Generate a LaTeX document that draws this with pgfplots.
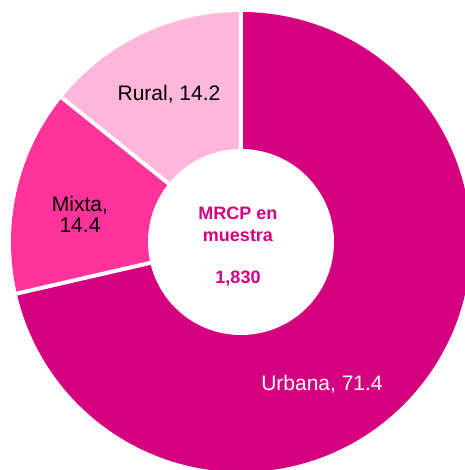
\documentclass[border=0pt]{standalone}
\usepackage{pgfplots}
\pgfplotsset{compat=1.18}
\usepackage{fontspec}
\setmainfont{Liberation Sans}
\definecolor{urb}{HTML}{D5007F}
\definecolor{mix}{HTML}{FF3399}
\definecolor{rur}{HTML}{FFB6DB}
% shares (percent)
\def\vUrb{71.4}
\def\vMix{14.4}
\def\vRur{14.2}
\def\Ro{230}
\def\Ri{93}
\pgfmathsetmacro\aA{90}
\pgfmathsetmacro\aB{\aA-3.6*\vUrb}
\pgfmathsetmacro\aC{\aB-3.6*\vMix}
\pgfmathsetmacro\aD{\aC-3.6*\vRur}
\begin{document}
\begin{tikzpicture}
\begin{axis}[disabledatascaling, x=1bp, y=1bp,
  xmin=-241, xmax=224, ymin=-228, ymax=242,
  hide axis, clip=true]
\fill[urb] (0,0) -- ({\Ro*cos(\aA)},{\Ro*sin(\aA)}) arc[start angle=\aA, end angle=\aB, radius=\Ro bp] -- cycle;
\fill[mix] (0,0) -- ({\Ro*cos(\aB)},{\Ro*sin(\aB)}) arc[start angle=\aB, end angle=\aC, radius=\Ro bp] -- cycle;
\fill[rur] (0,0) -- ({\Ro*cos(\aC)},{\Ro*sin(\aC)}) arc[start angle=\aC, end angle=\aD, radius=\Ro bp] -- cycle;
\draw[white, line width=4bp] (0,0) -- ({240*cos(\aA)},{240*sin(\aA)});
\draw[white, line width=4bp] (0,0) -- ({240*cos(\aB)},{240*sin(\aB)});
\draw[white, line width=4bp] (0,0) -- ({240*cos(\aC)},{240*sin(\aC)});
\fill[white] (0,0) circle[radius=\Ri bp];
\node[anchor=base, font=\fontsize{21bp}{25bp}\selectfont, text=black] at (-72,141) {Rural, 14.2};
\node[anchor=base, font=\fontsize{21bp}{25bp}\selectfont, text=black] at (-161,30) {Mixta,};
\node[anchor=base, font=\fontsize{21bp}{25bp}\selectfont, text=black] at (-161,9) {14.4};
\node[anchor=base, font=\fontsize{21bp}{25bp}\selectfont, text=white] at (81,-148) {Urbana, 71.4};
\node[anchor=base, font=\fontsize{18bp}{21bp}\selectfont\bfseries, text=urb] at (-3,22) {MRCP en};
\node[anchor=base, font=\fontsize{18bp}{21bp}\selectfont\bfseries, text=urb] at (-3,0) {muestra};
\node[anchor=base, font=\fontsize{18bp}{21bp}\selectfont\bfseries, text=urb] at (-3,-42) {1,830};
\end{axis}
\pgfresetboundingbox
\useasboundingbox (current axis.south west) rectangle (current axis.north east);
\end{tikzpicture}
\end{document}
